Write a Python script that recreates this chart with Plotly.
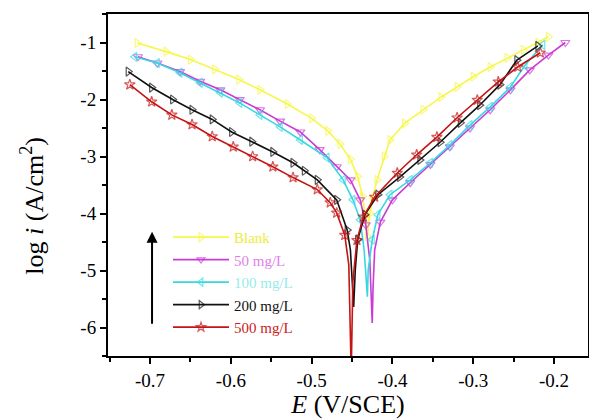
import plotly.graph_objects as go

# ---- data ----
blank_E = [-0.716, -0.68, -0.65, -0.62, -0.59, -0.564, -0.53, -0.50, -0.48, -0.465, -0.452, -0.443,
           -0.437, -0.433, -0.431, -0.428, -0.425, -0.419, -0.410, -0.403, -0.385, -0.362, -0.34,
           -0.320, -0.30, -0.279, -0.258, -0.238, -0.22, -0.207]
blank_logi = [-1.01, -1.16, -1.30, -1.47, -1.65, -1.83, -2.08, -2.33, -2.55, -2.78, -3.05, -3.35,
              -3.70, -4.10, -4.40, -4.00, -3.75, -3.41, -3.00, -2.71, -2.42, -2.18, -1.96,
              -1.78, -1.60, -1.43, -1.27, -1.13, -1.00, -0.90]

c50_E = [-0.715, -0.691, -0.663, -0.638, -0.613, -0.589, -0.564, -0.539, -0.514, -0.490, -0.469,
         -0.452, -0.440, -0.433, -0.428, -0.425, -0.424, -0.422, -0.415, -0.400, -0.378, -0.353,
         -0.329, -0.304, -0.279, -0.254, -0.230, -0.207, -0.186]
c50_logi = [-1.25, -1.36, -1.51, -1.68, -1.83, -2.00, -2.18, -2.38, -2.57, -2.88, -3.18,
            -3.41, -3.76, -4.20, -4.82, -5.92, -5.30, -4.64, -4.15, -3.76, -3.46, -3.14,
            -2.83, -2.50, -2.18, -1.83, -1.48, -1.22, -1.00]

c100_E = [-0.719, -0.691, -0.663, -0.638, -0.613, -0.589, -0.564, -0.539, -0.514, -0.481, -0.461,
          -0.449, -0.440, -0.435, -0.431, -0.430, -0.425, -0.418, -0.403, -0.378, -0.353, -0.329,
          -0.304, -0.279, -0.254, -0.236, -0.214]
c100_logi = [-1.25, -1.36, -1.53, -1.71, -1.88, -2.06, -2.27, -2.48, -2.71, -3.02, -3.41,
             -3.76, -4.11, -4.64, -5.46, -4.99, -4.46, -4.02, -3.67, -3.41, -3.11, -2.80,
             -2.45, -2.13, -1.78, -1.40, -1.04]

c200_E = [-0.727, -0.698, -0.672, -0.648, -0.623, -0.599, -0.574, -0.548, -0.523, -0.509, -0.493,
          -0.469, -0.456, -0.452, -0.448, -0.446, -0.443, -0.434, -0.418, -0.391, -0.366, -0.341,
          -0.316, -0.292, -0.267, -0.246, -0.220]
c200_logi = [-1.51, -1.79, -2.00, -2.18, -2.35, -2.57, -2.74, -2.92, -3.11, -3.25, -3.41,
             -3.76, -4.29, -4.64, -5.64, -4.99, -4.46, -4.02, -3.67, -3.36, -3.06, -2.75,
             -2.41, -2.10, -1.74, -1.31, -1.06]

c500_E = [-0.725, -0.698, -0.673, -0.648, -0.623, -0.597, -0.573, -0.548, -0.523, -0.493, -0.477,
          -0.469, -0.459, -0.454, -0.451, -0.449, -0.444, -0.436, -0.422, -0.394, -0.370, -0.345,
          -0.320, -0.295, -0.269, -0.245, -0.217]
c500_logi = [-1.74, -2.04, -2.27, -2.44, -2.65, -2.83, -3.00, -3.18, -3.37, -3.58, -3.81,
             -3.99, -4.38, -4.90, -6.80, -5.20, -4.47, -4.06, -3.71, -3.29, -2.97, -2.66,
             -2.32, -2.01, -1.69, -1.43, -1.18]

names = ["Blank", "50 mg/L", "100 mg/L", "200 mg/L", "500 mg/L"]
x_tickvals = [-0.7, -0.6, -0.5, -0.4, -0.3, -0.2]
x_ticktext = ["-0.7", "-0.6", "-0.5", "-0.4", "-0.3", "-0.2"]
y_tickvals = [-1, -2, -3, -4, -5, -6]
y_ticktext = ["-1", "-2", "-3", "-4", "-5", "-6"]

# ---- styles ----
series = [
    (blank_E, blank_logi, names[0], "#f7f74a", "#ecec3c", "triangle-right-open"),
    (c50_E, c50_logi, names[1], "#c93ad6", "#e27ee8", "triangle-down-open"),
    (c100_E, c100_logi, names[2], "#35d9df", "#98eaec", "triangle-left-open"),
    (c200_E, c200_logi, names[3], "#111111", "#111111", "triangle-right-open"),
    (c500_E, c500_logi, names[4], "#c41414", "#cc2020", "star-open"),
]

FONT = "Liberation Serif, Times New Roman, serif"

fig = go.Figure()
for E, li, nm, col, tcol, sym in series:
    sizes = [0 if v < -4.5 else 8 for v in li]   # no markers along the deep Ecorr spike
    fig.add_trace(go.Scatter(
        x=E, y=li, mode="lines+markers",
        name=f"<span style='color:{tcol}'>{nm}</span>",
        line=dict(color=col, width=1.6),
        marker=dict(symbol=sym, size=sizes, color=col, line=dict(width=1.2, color=col)),
    ))

fig.add_annotation(x=-0.6975, y=-4.32, ax=-0.6975, ay=-5.96, xref="x", yref="y",
                   axref="x", ayref="y", showarrow=True, arrowhead=2, arrowsize=1.1,
                   arrowwidth=2, arrowcolor="black", text="")

# y-axis title placed as an annotation to match the reference position
fig.add_annotation(text="log <i>i</i> (A/cm<sup>2</sup>)", xref="paper", yref="paper",
                   x=-0.158, y=0.44, xanchor="center", yanchor="middle", textangle=-90,
                   showarrow=False, font=dict(family=FONT, size=26, color="black"))

axis_common = dict(showline=True, linecolor="black", linewidth=2, mirror=True,
                   ticks="outside", ticklen=6, tickwidth=2, tickcolor="black",
                   showgrid=False, zeroline=False,
                   tickfont=dict(family=FONT, size=19, color="black"))

fig.update_xaxes(range=[-0.752, -0.158], tickmode="array", tickvals=x_tickvals,
                 ticktext=x_ticktext,
                 minor=dict(ticks="outside", ticklen=4, tickwidth=1.5, tickcolor="black",
                            tick0=-0.75, dtick=0.05),
                 title=dict(text="<i>E</i> (V/SCE)", font=dict(family=FONT, size=26, color="black"),
                            standoff=2),
                 **axis_common)
fig.update_yaxes(range=[-6.5, -0.5], tickmode="array", tickvals=y_tickvals,
                 ticktext=y_ticktext,
                 minor=dict(ticks="outside", ticklen=4, tickwidth=1.5, tickcolor="black",
                            tick0=-0.5, dtick=0.5),
                 **axis_common)

fig.update_layout(
    width=589, height=419,
    margin=dict(l=108, r=1, t=14, b=63, autoexpand=False),
    plot_bgcolor="white", paper_bgcolor="white",
    font=dict(family=FONT, color="black"),
    showlegend=True,
    legend=dict(x=0.125, y=0.395, xanchor="left", yanchor="top",
                bgcolor="rgba(0,0,0,0)", borderwidth=0,
                font=dict(family=FONT, size=15), itemwidth=56, tracegroupgap=0),
)

fig.write_html("out.html")
